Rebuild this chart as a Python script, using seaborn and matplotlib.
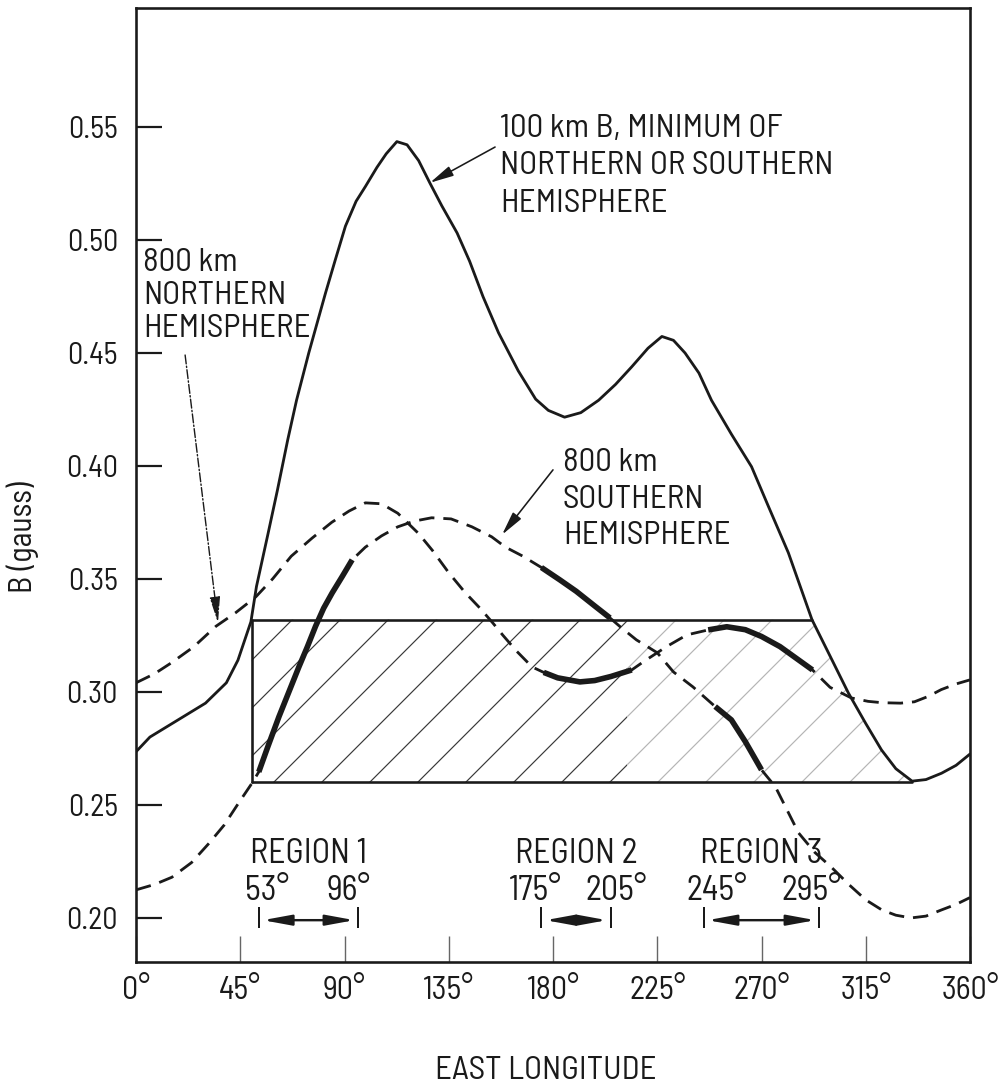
import numpy as np
import matplotlib
matplotlib.use("Agg")
import matplotlib.pyplot as plt
import seaborn as sns
from matplotlib import font_manager

# ---------------- data ----------------
lon_100 = [0, 6, 18, 30, 39, 44, 49.6, 52, 57, 61, 65.5, 69.3, 74.6, 81.8, 86, 90.4, 95,
           99, 104, 108, 112.6, 117, 122, 126.9, 132, 138.6, 144, 149.8, 156.5, 165, 172.5,
           178, 185, 192, 199.7, 207, 214, 221, 227, 232, 237, 243, 248.4, 257, 265.7,
           273, 281.6, 291.8, 300, 307.5, 315, 321.8, 328, 335, 341, 347.7, 354, 360]
b_100 = [0.2735, 0.280, 0.2875, 0.295, 0.304, 0.314, 0.331, 0.3466, 0.370, 0.389, 0.4115,
         0.429, 0.450, 0.4764, 0.491, 0.506, 0.517, 0.5235, 0.532, 0.538, 0.5434, 0.5420,
         0.535, 0.525, 0.515, 0.503, 0.4905, 0.4748, 0.4588, 0.442, 0.4295, 0.4245,
         0.4215, 0.4235, 0.429, 0.436, 0.4438, 0.452, 0.4572, 0.4555, 0.4499, 0.441,
         0.429, 0.414, 0.3996, 0.382, 0.3615, 0.3319, 0.315, 0.2995, 0.286, 0.2743,
         0.266, 0.2605, 0.2612, 0.264, 0.2675, 0.2725]

lon_north = [0, 8, 15.5, 25, 34.5, 43, 51.7, 59, 67, 76, 84.5, 92, 99, 106, 113, 122, 128,
             135, 142, 148.5, 154, 158.4, 164.3, 171, 176, 182, 191.6, 198, 205, 214, 219,
             229, 237.8, 247, 255, 263, 270, 278, 292, 299.6, 308.8, 316, 322, 330, 336,
             342, 347.6, 354, 360]
b_north = [0.304, 0.308, 0.313, 0.320, 0.329, 0.335, 0.342, 0.350, 0.360, 0.368, 0.375,
           0.380, 0.3836, 0.3832, 0.379, 0.370, 0.3625, 0.3527, 0.344, 0.337, 0.3305,
           0.325, 0.318, 0.311, 0.3086, 0.3062, 0.3044, 0.305, 0.3068, 0.3097, 0.3133,
           0.320, 0.3252, 0.3274, 0.3288, 0.3275, 0.3245, 0.320, 0.3097, 0.302, 0.2973,
           0.2958, 0.2952, 0.2950, 0.2956, 0.298, 0.301, 0.3035, 0.3053]

lon_south = [0, 8, 15.5, 24, 31.5, 38, 44.4, 50, 53, 57, 61.7, 66, 70.3, 74, 77.5, 81, 84.7,
             89, 93.3, 99, 106, 113, 120, 127.6, 136, 145, 153.5, 159.5, 167, 175, 183, 190,
             198, 204.6, 209, 216, 225, 232, 240.4, 250, 257, 263, 270, 276, 286, 293, 300,
             308, 315, 322, 328, 334.6, 341, 347.6, 354, 360]
b_south = [0.2124, 0.2148, 0.218, 0.2245, 0.233, 0.241, 0.251, 0.2595, 0.2646, 0.276,
           0.289, 0.300, 0.311, 0.320, 0.329, 0.337, 0.3438, 0.351, 0.3584, 0.364, 0.369,
           0.373, 0.3755, 0.377, 0.3765, 0.373, 0.3686, 0.364, 0.360, 0.355, 0.3495,
           0.3445, 0.338, 0.3327, 0.3288, 0.323, 0.3173, 0.3088, 0.3022, 0.2935, 0.2876,
           0.278, 0.2655, 0.258, 0.2376, 0.229, 0.2226, 0.2145, 0.208, 0.2035, 0.2012,
           0.200, 0.2008, 0.2035, 0.206, 0.209]

# heavy (solid) parts of the 800 km curves
south_heavy = [(53, 93.3), (175, 204.6), (250, 270)]
north_heavy = [(176, 214), (247, 292)]

# shaded box: longitude start and B range
box_lon_start = 50
box_b_low = 0.260
box_b_high = 0.3319

region_names = ["REGION 1", "REGION 2", "REGION 3"]
region_start = [53, 175, 245]
region_end = [96, 205, 295]

x_ticks = [0, 45, 90, 135, 180, 225, 270, 315, 360]
x_tick_labels = ["0°", "45°", "90°", "135°", "180°", "225°", "270°", "315°", "360°"]
y_ticks = [0.20, 0.25, 0.30, 0.35, 0.40, 0.45, 0.50, 0.55]
y_tick_labels = ["0.20", "0.25", "0.30", "0.35", "0.40", "0.45", "0.50", "0.55"]

# ---------------- style ----------------
sns.set_theme(style="white")
names = {f.name for f in font_manager.fontManager.ttflist}
fams = [f for f in ["Barlow Semi Condensed", "Barlow Condensed", "Roboto Condensed",
                    "Liberation Sans"] if f in names]
plt.rcParams["font.family"] = fams + ["DejaVu Sans"]
plt.rcParams["hatch.linewidth"] = 0.6

DPI = 144
fig = plt.figure(figsize=(1004 / DPI, 1084 / DPI), dpi=DPI, facecolor="white")
ax = fig.add_axes([136 / 1004, 122 / 1084, 834 / 1004, 954 / 1084])
ax.set_facecolor("white")

lon_100 = np.array(lon_100); b_100 = np.array(b_100)
lon_north = np.array(lon_north); b_north = np.array(b_north)
lon_south = np.array(lon_south); b_south = np.array(b_south)


def curve(x, y, **kw):
    sns.lineplot(x=x, y=y, ax=ax, sort=False, estimator=None, errorbar=None,
                 legend=False, **kw)


# ---- hatched box region (bounded on the right by the 100 km curve) ----
xx = np.linspace(box_lon_start, 360, 3000)
yy = np.interp(xx, lon_100, b_100)
desc = xx > 250
top_end = xx[desc][np.argmin(np.abs(yy[desc] - box_b_high))]
bot_end = xx[desc][np.argmin(yy[desc])]

split = 212
for lo, hi, col in [(box_lon_start, split, "#3a3a3a"), (split, bot_end, "#b5b5b5")]:
    xs = np.linspace(lo, hi, 600)
    up = np.minimum(np.interp(xs, lon_100, b_100), box_b_high)
    ax.fill_between(xs, box_b_low, up, facecolor="none", edgecolor=col,
                    hatch="/", linewidth=0, zorder=1)

# box outline
curve(np.array([box_lon_start, top_end]), np.array([box_b_high, box_b_high]), color="k", lw=1.3)
curve(np.array([box_lon_start, bot_end]), np.array([box_b_low, box_b_low]), color="k", lw=1.3)
curve(np.array([box_lon_start, box_lon_start]), np.array([box_b_low, box_b_high]), color="k", lw=1.3)

# ---- curves ----
curve(lon_100, b_100, color="k", lw=1.4)
curve(lon_north, b_north, color="k", lw=1.4, linestyle=(0, (5.5, 3.2)))
curve(lon_south, b_south, color="k", lw=1.4, linestyle=(0, (5.5, 3.2)))
for a, b in south_heavy:
    m = (lon_south >= a) & (lon_south <= b)
    curve(lon_south[m], b_south[m], color="k", lw=2.8, solid_capstyle="butt")
for a, b in north_heavy:
    m = (lon_north >= a) & (lon_north <= b)
    curve(lon_north[m], b_north[m], color="k", lw=2.8, solid_capstyle="butt")

# ---- axes ----
ax.set_xlim(0, 360)
ax.set_ylim(0.1805, 0.6025)
ax.set_xticks(x_ticks)
ax.set_xticklabels(x_tick_labels)
ax.set_yticks(y_ticks)
ax.set_yticklabels(y_tick_labels)
ax.tick_params(axis="y", direction="in", length=13, width=1.1, pad=9,
               labelsize=15, colors="k", left=True)
ax.tick_params(axis="x", direction="in", length=13, width=0.7, pad=7,
               labelsize=16, color="#666666", labelcolor="k", bottom=True)
for s in ax.spines.values():
    s.set_color("k")
    s.set_linewidth(1.3)
    s.set_visible(True)

ax.set_xlabel("EAST LONGITUDE", fontsize=16.5, color="k")
ax.xaxis.set_label_coords(0.491, -0.114)
ax.xaxis.label.set_verticalalignment("center")
ax.set_ylabel("B (gauss)", fontsize=16, color="k")
ax.yaxis.set_label_coords(-0.136, 0.445)
ax.yaxis.label.set_verticalalignment("center")

# ---- annotations ----
TXT = 16.5
ax.text(157.1, 0.5556, "100 km B, MINIMUM OF\nNORTHERN OR SOUTHERN\nHEMISPHERE",
        fontsize=TXT, ha="left", va="top", linespacing=1.32, color="k")
ax.annotate("", xy=(126.9, 0.5252), xytext=(155, 0.541),
            arrowprops=dict(arrowstyle="-|>,head_length=1.0,head_width=0.22",
                            mutation_scale=10, lw=0.8, color="k", shrinkA=0, shrinkB=0))

ax.text(3, 0.4962, "800 km\nNORTHERN\nHEMISPHERE", fontsize=TXT, ha="left", va="top",
        linespacing=1.12, color="k")
ax.annotate("", xy=(35.4, 0.3305), xytext=(21.2, 0.449),
            arrowprops=dict(arrowstyle="-|>,head_length=1.1,head_width=0.22",
                            mutation_scale=10, lw=0.7, color="k", linestyle="-.",
                            shrinkA=0, shrinkB=0))

ax.text(184.3, 0.4080, "800 km\nSOUTHERN\nHEMISPHERE", fontsize=TXT, ha="left", va="top",
        linespacing=1.3, color="k")
ax.annotate("", xy=(158, 0.3695), xytext=(180, 0.3982),
            arrowprops=dict(arrowstyle="-|>,head_length=1.0,head_width=0.22",
                            mutation_scale=10, lw=0.8, color="k", shrinkA=0, shrinkB=0))

# horizontal nudges (degrees) of the endpoint labels, as placed in the original
start_nudge = [3.5, -2.5, 5.5]
end_nudge = [-4.2, 2.4, -3.5]
arrow_y = 0.199
for name, a, b, ns, ne in zip(region_names, region_start, region_end, start_nudge, end_nudge):
    ax.text((a + b) / 2, 0.2243, name, fontsize=17, ha="center", va="baseline", color="k")
    ax.text(a + ns, 0.2080, f"{a}°", fontsize=17, ha="center", va="baseline", color="k")
    ax.text(b + ne, 0.2080, f"{b}°", fontsize=17, ha="center", va="baseline", color="k")
    ax.vlines([a, b], 0.1956, 0.2049, color="k", lw=1.0)
    ax.annotate("", xy=(b, arrow_y), xytext=(a, arrow_y),
                arrowprops=dict(arrowstyle="<|-|>,head_length=1.2,head_width=0.22",
                                mutation_scale=10, lw=1.2, color="k",
                                shrinkA=2, shrinkB=2))

fig.savefig("out.png", dpi=DPI, facecolor="white")
